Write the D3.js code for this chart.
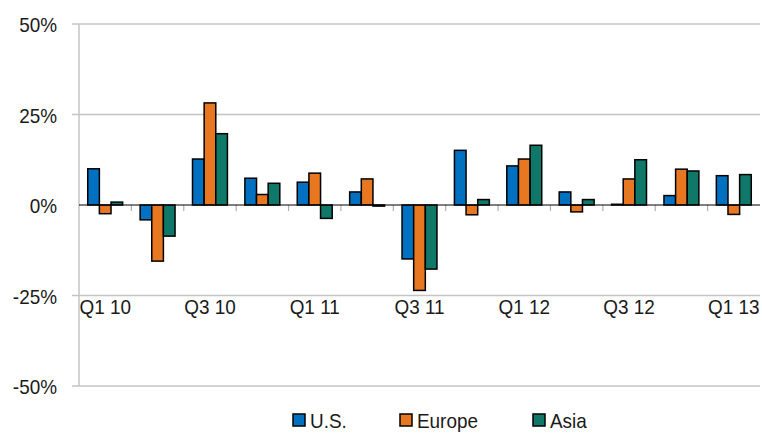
<!DOCTYPE html>
<html lang="en">
  <head>
    <meta charset="UTF-8" />
    <title>Quarterly change by region</title>
    <style>
      body { margin: 0; background: #fff; }
      text { font-family: 'Liberation Sans', Arial, sans-serif; font-size: 21px; fill: #1a1a1a; }
    </style>
  </head>
  <body>
    <script src="https://d3js.org/d3.v7.min.js"></script>
    <script>
      // data
      const quarters = ['Q1 10', 'Q2 10', 'Q3 10', 'Q4 10', 'Q1 11', 'Q2 11', 'Q3 11',
                        'Q4 11', 'Q1 12', 'Q2 12', 'Q3 12', 'Q4 12', 'Q1 13'];
      const seriesNames = ['U.S.', 'Europe', 'Asia'];
      const us     = [10.0, -4.1, 12.7, 7.4, 6.3, 3.6, -14.9, 15.1, 10.8, 3.6, 0.2, 2.6, 8.1];
      const europe = [-2.4, -15.5, 28.2, 2.9, 8.8, 7.2, -23.6, -2.7, 12.7, -1.9, 7.2, 9.9, -2.6];
      const asia   = [0.8, -8.6, 19.7, 6.0, -3.7, -0.3, -17.7, 1.5, 16.5, 1.5, 12.5, 9.4, 8.4];
      const yTicks = [-50, -25, 0, 25, 50];
      const colors = ['#0070c0', '#e87722', '#107868'];

      const width = 762;
      const height = 433;
      const margin = { top: 24, right: 2, bottom: 47, left: 79 };
      const innerWidth = width - margin.left - margin.right;
      const innerHeight = height - margin.top - margin.bottom;
      const narrow = 0.9; // squeeze text to look like a narrow face

      const svg = d3.select('body').append('svg')
        .attr('width', width).attr('height', height);
      const g = svg.append('g')
        .attr('transform', `translate(${margin.left},${margin.top})`);

      const xScale = d3.scaleBand().domain(quarters).range([0, innerWidth]);
      const xInner = d3.scaleBand().domain(seriesNames)
        .range([0, xScale.bandwidth()]).paddingInner(0).paddingOuter(0.75);
      const yScale = d3.scaleLinear().domain([-50, 50]).range([innerHeight, 0]);

      // squeeze every text horizontally, keeping its anchor
      const squeeze = (sel) => sel.each(function () {
        const w = this.getComputedTextLength();
        d3.select(this).attr('textLength', w * narrow).attr('lengthAdjust', 'spacingAndGlyphs');
      });

      // gridlines
      g.selectAll('.grid').data(yTicks.filter((d) => d !== 0)).enter()
        .append('line')
        .attr('x1', -7).attr('x2', innerWidth)
        .attr('y1', (d) => yScale(d)).attr('y2', (d) => yScale(d))
        .attr('stroke', '#c4c4c4').attr('stroke-width', 1.5);

      // vertical axis line
      g.append('line')
        .attr('x1', 0).attr('x2', 0).attr('y1', 0).attr('y2', innerHeight)
        .attr('stroke', '#c4c4c4').attr('stroke-width', 1.5);

      // y labels
      g.selectAll('.ylab').data(yTicks).enter()
        .append('text')
        .attr('x', -22).attr('y', (d) => yScale(d) + 8)
        .attr('text-anchor', 'end')
        .text((d) => d + '%')
        .call(squeeze);

      // category ticks below the zero line
      g.selectAll('.ctick').data(quarters.slice(1)).enter()
        .append('line')
        .attr('x1', (d) => xScale(d)).attr('x2', (d) => xScale(d))
        .attr('y1', yScale(0)).attr('y2', yScale(0) + 6)
        .attr('stroke', '#b0b0b0').attr('stroke-width', 1.2);

      // bars
      const allSeries = [us, europe, asia];
      const groups = g.selectAll('.series').data(allSeries).enter()
        .append('g').attr('fill', (d, i) => colors[i])
        .attr('transform', (d, i) => `translate(${xInner(seriesNames[i])},0)`);
      groups.selectAll('rect').data((d) => d).enter()
        .append('rect')
        .attr('x', (d, i) => xScale(quarters[i]))
        .attr('y', (d) => yScale(Math.max(0, d)))
        .attr('width', xInner.bandwidth())
        .attr('height', (d) => Math.abs(yScale(d) - yScale(0)))
        .attr('stroke', '#000').attr('stroke-width', 1.5);

      // zero line
      g.append('line')
        .attr('x1', 0).attr('x2', innerWidth)
        .attr('y1', yScale(0)).attr('y2', yScale(0))
        .attr('stroke', '#000').attr('stroke-width', 1.2);

      // x labels, every other quarter, sitting below the -25% gridline
      g.selectAll('.xlab').data(quarters.filter((d, i) => i % 2 === 0)).enter()
        .append('text')
        .attr('x', (d) => xScale(d) + xScale.bandwidth() / 2)
        .attr('y', yScale(-25) + 18)
        .attr('text-anchor', 'middle')
        .text((d) => d)
        .call(squeeze);

      // legend
      const legendX = [293, 400, 533];
      const legend = svg.selectAll('.legend').data(seriesNames).enter()
        .append('g')
        .attr('transform', (d, i) => `translate(${legendX[i]},414)`);
      legend.append('rect')
        .attr('width', 12).attr('height', 12)
        .attr('fill', (d, i) => colors[i])
        .attr('stroke', '#000').attr('stroke-width', 1.5);
      legend.append('text')
        .attr('x', 17).attr('y', 13.5)
        .text((d) => d)
        .call(squeeze);
    </script>
  </body>
</html>
